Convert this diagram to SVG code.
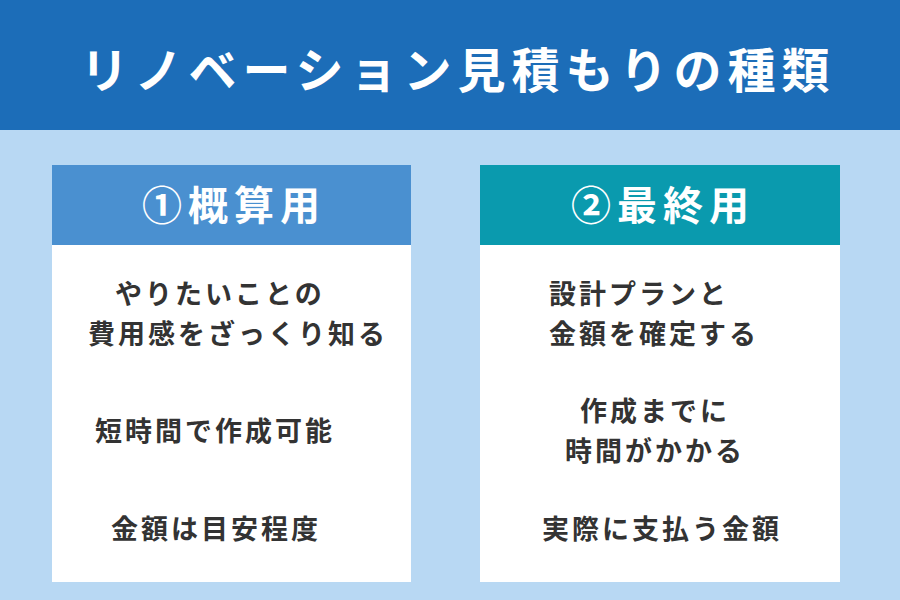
<svg xmlns="http://www.w3.org/2000/svg" width="900" height="600" viewBox="0 0 900 600">
<style>
text{font-family:"Noto Sans CJK JP","Noto Sans",sans-serif;font-weight:bold}
.t{fill:#ffffff}
.b{fill:#333333;font-size:27px;letter-spacing:3px}
.h{font-size:40px;letter-spacing:6px;text-anchor:middle}
</style>
<rect width="900" height="600" fill="#b8d8f3"/>
<g id="title">
<rect width="900" height="130" fill="#1c6db8"/>
<text class="t" x="458" y="88" font-size="48" letter-spacing="6" text-anchor="middle">リノベーション見積もりの種類</text>
</g>
<g id="card1">
<rect x="52" y="165" width="359" height="417" fill="#ffffff"/>
<rect x="52" y="165" width="359" height="80" fill="#4a90d0"/>
<text class="t h" x="234" y="220">①概算用</text>
<text class="b" x="115" y="304">やりたいことの</text>
<text class="b" x="88" y="344">費用感をざっくり知る</text>
<text class="b" x="95" y="441">短時間で作成可能</text>
<text class="b" x="111" y="539">金額は目安程度</text>
</g>
<g id="card2">
<rect x="480" y="165" width="360" height="417" fill="#ffffff"/>
<rect x="480" y="165" width="360" height="80" fill="#0a9aae"/>
<text class="t h" x="663" y="220">②最終用</text>
<text class="b" x="549" y="304">設計プランと</text>
<text class="b" x="549" y="344">金額を確定する</text>
<text class="b" x="580" y="421">作成までに</text>
<text class="b" x="565" y="461">時間がかかる</text>
<text class="b" x="542" y="539">実際に支払う金額</text>
</g>
<g id="connectors"/>
</svg>
